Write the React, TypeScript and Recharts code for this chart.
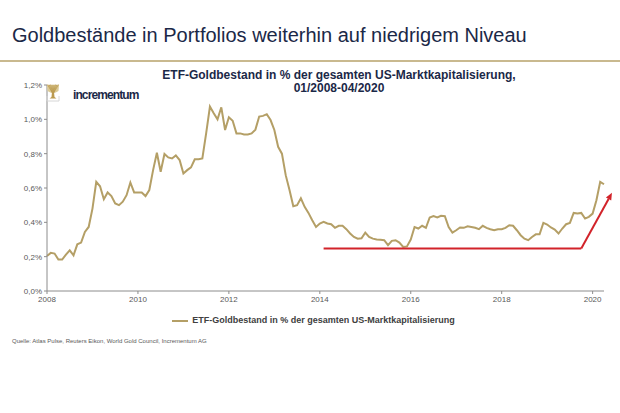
import React from "react";
import {
  LineChart,
  Line,
  XAxis,
  YAxis,
  ReferenceLine,
  Legend,
} from "recharts";

// monthly ETF gold holdings in % of total US market cap, 01/2008 - 04/2020
const VALUES_2008 = [0.204, 0.222, 0.218, 0.183, 0.183, 0.212, 0.237, 0.208, 0.272, 0.282, 0.344, 0.373];
const VALUES_2009 = [0.48, 0.636, 0.61, 0.535, 0.574, 0.553, 0.51, 0.5, 0.52, 0.558, 0.632, 0.574];
const VALUES_2010 = [0.574, 0.574, 0.553, 0.588, 0.704, 0.805, 0.695, 0.798, 0.778, 0.772, 0.79, 0.763];
const VALUES_2011 = [0.685, 0.704, 0.72, 0.767, 0.768, 0.772, 0.918, 1.074, 1.035, 1.0, 1.07, 0.938];
const VALUES_2012 = [1.012, 0.992, 0.918, 0.918, 0.912, 0.912, 0.918, 0.94, 1.016, 1.02, 1.03, 0.996];
const VALUES_2013 = [0.938, 0.84, 0.8, 0.675, 0.588, 0.494, 0.5, 0.54, 0.49, 0.455, 0.412, 0.373];
const VALUES_2014 = [0.393, 0.403, 0.393, 0.389, 0.368, 0.38, 0.38, 0.36, 0.335, 0.315, 0.305, 0.307];
const VALUES_2015 = [0.34, 0.315, 0.305, 0.3, 0.298, 0.296, 0.267, 0.292, 0.296, 0.282, 0.257, 0.26];
const VALUES_2016 = [0.3, 0.373, 0.364, 0.38, 0.368, 0.428, 0.436, 0.428, 0.438, 0.436, 0.373, 0.34];
const VALUES_2017 = [0.354, 0.37, 0.368, 0.377, 0.373, 0.368, 0.36, 0.38, 0.368, 0.36, 0.354, 0.36];
const VALUES_2018 = [0.36, 0.368, 0.383, 0.38, 0.354, 0.325, 0.305, 0.296, 0.315, 0.33, 0.33, 0.397];
const VALUES_2019 = [0.387, 0.37, 0.358, 0.335, 0.364, 0.389, 0.397, 0.455, 0.451, 0.455, 0.422, 0.432];
const VALUES_2020 = [0.451, 0.529, 0.636, 0.622];

const START_YEAR = 2008;
const YEAR_TICKS = [2008, 2010, 2012, 2014, 2016, 2018, 2020];
const Y_TICKS = [0, 0.2, 0.4, 0.6, 0.8, 1.0, 1.2];

// red "low level" marker: month index / value pairs
const FLOOR_LINE = [
  { i: 73, v: 0.247 },
  { i: 141, v: 0.247 },
];
const ARROW_LINE = [
  { i: 141, v: 0.247 },
  { i: 149.1, v: 0.572 },
];

const SERIES_NAME = "ETF-Goldbestand in % der gesamten US-Marktkapitalisierung";

const values = [
  ...VALUES_2008, ...VALUES_2009, ...VALUES_2010, ...VALUES_2011,
  ...VALUES_2012, ...VALUES_2013, ...VALUES_2014, ...VALUES_2015,
  ...VALUES_2016, ...VALUES_2017, ...VALUES_2018, ...VALUES_2019,
  ...VALUES_2020,
];
const data = values.map((v, i) => ({ i, v }));

const GOLD = "#b49f66";
const NAVY = "#1b2847";
const RED = "#d2232a";
const FONT = "'Liberation Sans', Arial, sans-serif";

const ArrowShape = (props: any) => {
  const { x1, y1, x2, y2 } = props;
  const ang = Math.atan2(y2 - y1, x2 - x1);
  const len = 7;
  const w = 3;
  const bx = x2 - len * Math.cos(ang);
  const by = y2 - len * Math.sin(ang);
  const px = -Math.sin(ang) * w;
  const py = Math.cos(ang) * w;
  return (
    <g>
      <line x1={x1} y1={y1} x2={bx} y2={by} stroke={RED} strokeWidth={2} />
      <polygon
        points={`${x2},${y2} ${bx + px},${by + py} ${bx - px},${by - py}`}
        fill={RED}
      />
    </g>
  );
};

// small tree logo, canopy of fine branches over a trunk
const Logo = () => (
  <div style={{ position: "absolute", left: 46, top: 84 }}>
    <svg width={14} height={18} viewBox="0 0 14 18" style={{ position: "absolute", left: 0, top: 0 }}>
      <path d="M1 1 L13 1 L12.5 7 Q7 11 1.5 7 Z" fill="#dccb98" />
      {[1.5, 3, 4.5, 6, 8, 9.5, 11, 12.5].map((x) => (
        <line key={x} x1={x} y1={0.5} x2={7} y2={10} stroke="#bb9a4f" strokeWidth={0.8} />
      ))}
      <path d="M6 8 L8 8 L8.5 13 L10.5 14.5 L3.5 14.5 L5.5 13 Z" fill="#bb9a4f" />
      <path d="M1 12 V17 H13 V12" fill="none" stroke="#d6d6d6" strokeWidth={1} />
    </svg>
    <span
      style={{
        position: "absolute",
        left: 27,
        top: 4,
        fontSize: 12,
        fontWeight: "bold",
        color: NAVY,
        letterSpacing: -0.9,
        whiteSpace: "nowrap",
      }}
    >
      incrementum
    </span>
  </div>
);

export default function App() {
  return (
    <div
      style={{
        position: "absolute",
        left: 0,
        top: 0,
        width: 620,
        height: 413,
        background: "#fff",
        fontFamily: FONT,
        overflow: "hidden",
      }}
    >
      <div
        style={{
          position: "absolute",
          left: 12,
          top: 24,
          fontSize: 20,
          lineHeight: "22px",
          color: NAVY,
          whiteSpace: "nowrap",
        }}
      >
        Goldbestände in Portfolios weiterhin auf niedrigem Niveau
      </div>
      <div
        style={{
          position: "absolute",
          left: 0,
          top: 60,
          width: 620,
          height: 1.5,
          background: "#c9b98f",
        }}
      />
      <div
        style={{
          position: "absolute",
          left: 139,
          top: 69,
          width: 400,
          textAlign: "center",
          fontSize: 12,
          fontWeight: "bold",
          lineHeight: "13px",
          color: NAVY,
        }}
      >
        ETF-Goldbestand in % der gesamten US-Marktkapitalisierung,
        <br />
        01/2008-04/2020
      </div>

      <div style={{ position: "absolute", left: 0, top: 0 }}>
        <LineChart
          width={620}
          height={413}
          data={data}
          margin={{ top: 85, right: 16, bottom: 102, left: 7 }}
        >
          <XAxis
            type="number"
            dataKey="i"
            domain={[0, 147]}
            ticks={YEAR_TICKS.map((y) => (y - START_YEAR) * 12)}
            tickFormatter={(i: number) => String(START_YEAR + i / 12)}
            height={20}
            tickSize={3}
            stroke="#8c8c8c"
            tick={{ fontSize: 8, fill: "#595959" }}
          />
          <YAxis
            type="number"
            domain={[0, 1.2]}
            ticks={Y_TICKS}
            tickFormatter={(v: number) => v.toFixed(1).replace(".", ",") + "%"}
            width={40}
            tickSize={3}
            stroke="#8c8c8c"
            tick={{ fontSize: 8, fill: "#595959" }}
          />
          <Line
            type="linear"
            dataKey="v"
            name={SERIES_NAME}
            stroke={GOLD}
            strokeWidth={2}
            dot={false}
            isAnimationActive={false}
          />
          <ReferenceLine
            segment={FLOOR_LINE.map((p) => ({ x: p.i, y: p.v }))}
            stroke={RED}
            strokeWidth={2}
            ifOverflow="visible"
          />
          <ReferenceLine
            segment={ARROW_LINE.map((p) => ({ x: p.i, y: p.v }))}
            ifOverflow="visible"
            shape={ArrowShape}
          />
          <Legend
            verticalAlign="middle"
            align="center"
            iconType="plainline"
            iconSize={16}
            wrapperStyle={{ top: 312, left: 20, width: 597, fontSize: 9, lineHeight: "16px" }}
            formatter={(value: string) => (
              <span style={{ color: "#404040", fontWeight: "bold" }}>{value}</span>
            )}
          />
        </LineChart>
      </div>

      <Logo />

      <div
        style={{
          position: "absolute",
          left: 12,
          top: 338,
          fontSize: 6,
          color: "#595959",
          whiteSpace: "nowrap",
        }}
      >
        Quelle: Atlas Pulse, Reuters Eikon, World Gold Council, Incrementum AG
      </div>
    </div>
  );
}
